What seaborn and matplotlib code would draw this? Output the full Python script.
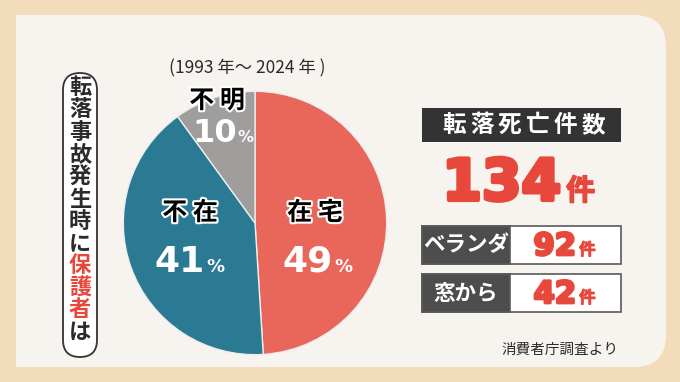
"""
Pie chart: guardian presence at time of child fall accidents
"""
import matplotlib
matplotlib.use("Agg")
import matplotlib.pyplot as plt
import matplotlib.patheffects as pe
from matplotlib.patches import Rectangle, FancyBboxPatch, PathPatch
from matplotlib.path import Path
import seaborn as sns

# ---- data ----
categories = ["在宅", "不在", "不明"]
shares = [49, 41, 10]
slice_colors = ["#E8665A", "#2B7A93", "#A09E9C"]
period_label = "(1993 年〜 2024 年 )"
side_title = "転落事故発生時に保護者は"
side_highlight = "保護者"
total_label = "転落死亡件数"
total_count = 134
place_labels = ["ベランダ", "窓から"]
place_counts = [92, 42]
source_label = "消費者庁調査より"

sns.set_theme(style="white")
plt.rcParams["font.family"] = ["Noto Sans CJK JP", "DejaVu Sans"]

W, H = 680, 382
RED = "#E8473C"
DARK = "#2b2b2b"

fig = plt.figure(figsize=(W / 100, H / 100), dpi=100)
fig.patch.set_facecolor("#F2DCBB")

# background axes in pixel coordinates
bg = fig.add_axes([0, 0, 1, 1], zorder=0)
bg.set_xlim(0, W)
bg.set_ylim(H, 0)
bg.axis("off")

# panel with rounded right corners
r = 32
x0, y0, x1, y1 = 16, 15, 666, 367
verts = [(x0, y0), (x1 - r, y0), (x1, y0), (x1, y0 + r), (x1, y1 - r),
         (x1, y1), (x1 - r, y1), (x0, y1), (x0, y0)]
codes = [Path.MOVETO, Path.LINETO, Path.CURVE3, Path.CURVE3, Path.LINETO,
         Path.CURVE3, Path.CURVE3, Path.LINETO, Path.CLOSEPOLY]
bg.add_patch(PathPatch(Path(verts, codes), facecolor="#F7F3EE", edgecolor="none"))

# vertical title pill
bg.add_patch(FancyBboxPatch((63, 73), 34, 284, boxstyle="round,pad=0,rounding_size=17",
                            facecolor="white", edgecolor="#333333", linewidth=1.3))

# right side boxes
bg.add_patch(Rectangle((422, 108), 199, 34, facecolor="#333333", edgecolor="none"))
for i in range(len(place_labels)):
    top = 226 + i * 48
    bg.add_patch(Rectangle((422, top), 199, 38, facecolor="white",
                           edgecolor="#5a5a5a", linewidth=1.2))
    bg.add_patch(Rectangle((422, top), 88, 38, facecolor="#4d4d4d",
                           edgecolor="#5a5a5a", linewidth=1.2))

# pie
cx, cy, rad = 255, 223, 133
ax = fig.add_axes([(cx - rad) / W, (H - cy - rad) / H, 2 * rad / W, 2 * rad / H], zorder=1)
ax.pie(shares, colors=slice_colors, startangle=90, counterclock=False,
       wedgeprops=dict(edgecolor="#EDEDED", linewidth=1.0))
ax.set_xlim(-1.01, 1.01)
ax.set_ylim(-1.01, 1.01)
ax.set_aspect("equal")
ax.axis("off")

# overlay for text
top_ax = fig.add_axes([0, 0, 1, 1], zorder=2)
top_ax.set_xlim(0, W)
top_ax.set_ylim(H, 0)
top_ax.axis("off")
top_ax.patch.set_alpha(0)

outline = [pe.withStroke(linewidth=3, foreground="white")]


def heavy(color, lw):
    return [pe.withStroke(linewidth=lw, foreground=color)]


top_ax.text(247, 68, period_label, ha="center", va="center", fontsize=12.5, color=DARK)

# category labels and percentages
label_pos = [(315, 213), (190, 213), (217, 101)]
pct_pos = [(333, 272), (205, 272), (237, 142)]
pct_size = [26, 26, 23]
for name, share, (lx, ly), (px, py), fs in zip(categories, shares, label_pos, pct_pos, pct_size):
    top_ax.text(lx, ly, " ".join(name), ha="center", va="center", fontsize=18,
                fontweight="bold", color="black", path_effects=outline)
    top_ax.text(px, py, str(share), ha="right", va="baseline", fontsize=fs,
                fontweight="bold", color="white", family="DejaVu Sans")
    top_ax.text(px + 1, py, "%", ha="left", va="baseline", fontsize=fs * 0.5,
                fontweight="bold", color="white", family="DejaVu Sans")

# vertical title
hl_start = side_title.index(side_highlight)
for i, ch in enumerate(side_title):
    col = RED if hl_start <= i < hl_start + len(side_highlight) else DARK
    top_ax.text(80, 88 + i * 22.2, ch, ha="center", va="center", fontsize=16,
                fontweight="bold", color=col)

# total
for i, ch in enumerate(total_label):
    top_ax.text(454 + i * 27.8, 125, ch, ha="center", va="center", fontsize=17,
                fontweight="bold", color="white")
top_ax.text(561, 200, str(total_count), ha="right", va="baseline", fontsize=41,
            fontweight="bold", color=RED, family="DejaVu Sans",
            path_effects=heavy(RED, 3))
top_ax.text(566, 200, "件", ha="left", va="baseline", fontsize=21,
            fontweight="bold", color=RED, path_effects=heavy(RED, 1))

for i, (lab, cnt) in enumerate(zip(place_labels, place_counts)):
    top = 226 + i * 48
    top_ax.text(466, top + 19, lab, ha="center", va="center", fontsize=15.5,
                fontweight="bold", color="white")
    top_ax.text(576, top + 29, str(cnt), ha="right", va="baseline", fontsize=22,
                fontweight="bold", color=RED, family="DejaVu Sans",
                path_effects=heavy(RED, 2))
    top_ax.text(579, top + 29, "件", ha="left", va="baseline", fontsize=12,
                fontweight="bold", color=RED, path_effects=heavy(RED, 0.6))

top_ax.text(560, 350, source_label, ha="center", va="center", fontsize=10.5, color=DARK)

fig.savefig("out.png", dpi=100, facecolor=fig.get_facecolor())
